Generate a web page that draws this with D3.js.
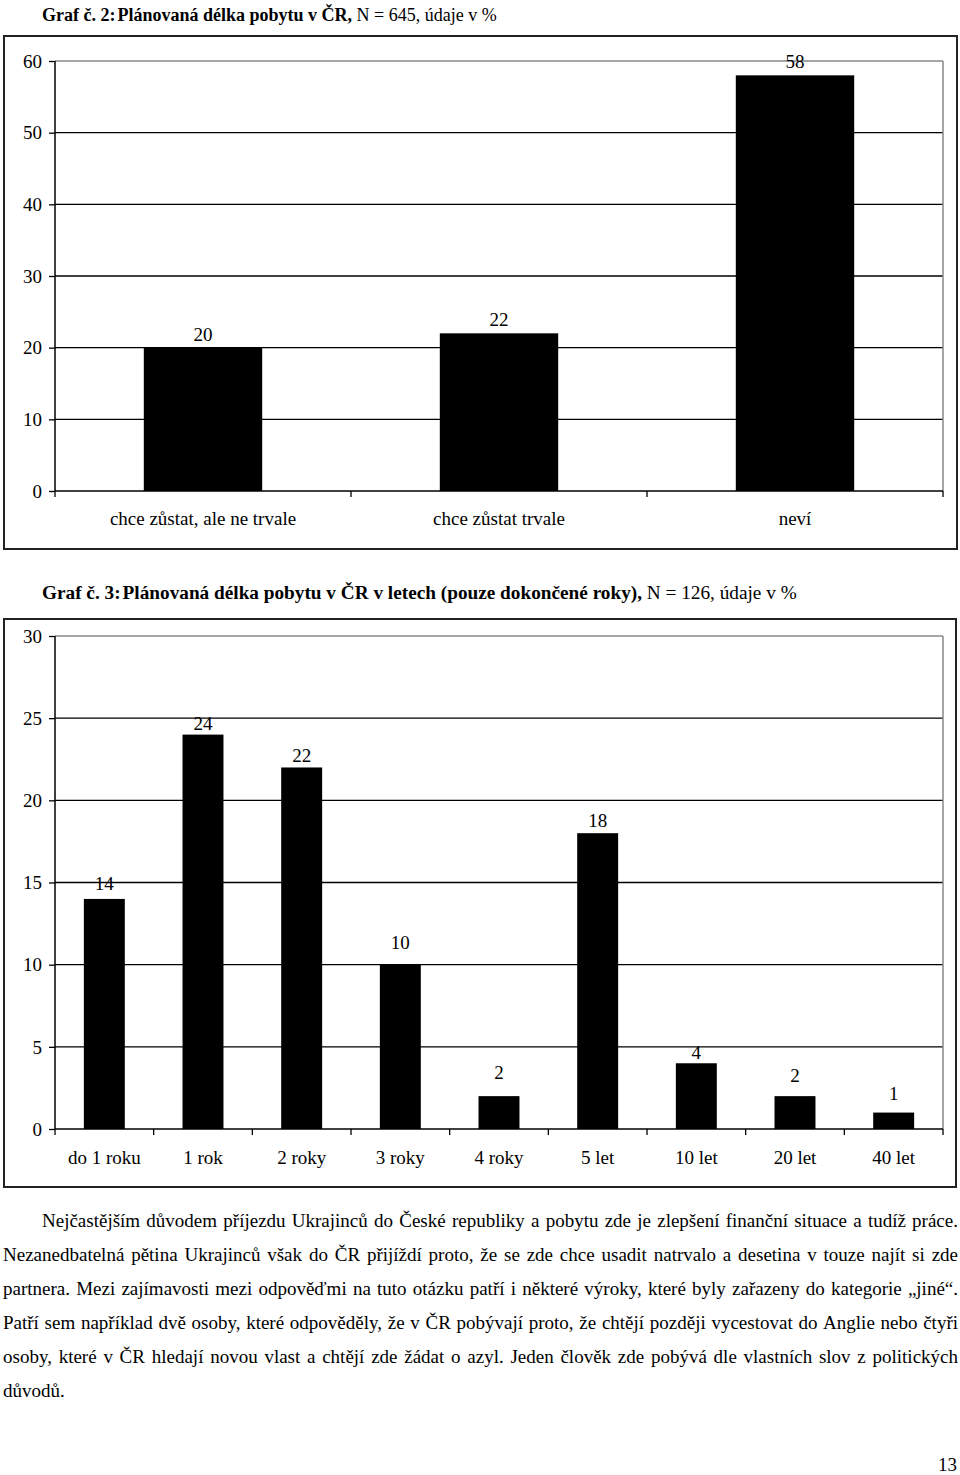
<!DOCTYPE html>
<html><head><meta charset="utf-8">
<script src="https://cdn.jsdelivr.net/npm/d3@7"></script>
<style>
html,body{margin:0;padding:0;background:#fff;}
svg{display:block;}
text{font-family:"Liberation Serif","Times New Roman",serif;fill:#000;}
</style></head>
<body>
<script>
// ---- data ----
const chart1Categories = ["chce zůstat, ale ne trvale", "chce zůstat trvale", "neví"];
const chart1Values = [20, 22, 58];
const chart1Ticks = [0, 10, 20, 30, 40, 50, 60];

const chart2Categories = ["do 1 roku", "1 rok", "2 roky", "3 roky", "4 roky", "5 let", "10 let", "20 let", "40 let"];
const chart2Values = [14, 24, 22, 10, 2, 18, 4, 2, 1];
const chart2Ticks = [0, 5, 10, 15, 20, 25, 30];

const title1Label = "Graf č. 2:";
const title1Bold = "Plánovaná délka pobytu v ČR,";
const title1Rest = " N = 645, údaje v %";
const title2Label = "Graf č. 3:";
const title2Bold = "Plánovaná délka pobytu v ČR v letech (pouze dokončené roky),";
const title2Rest = " N = 126, údaje v %";

const paragraphLines = [
  "Nejčastějším důvodem příjezdu Ukrajinců do České republiky a pobytu zde je zlepšení finanční situace a tudíž práce.",
  "Nezanedbatelná pětina Ukrajinců však do ČR přijíždí proto, že se zde chce usadit natrvalo a desetina v touze najít si zde",
  "partnera. Mezi zajímavosti mezi odpověďmi na tuto otázku patří i některé výroky, které byly zařazeny do kategorie „jiné“.",
  "Patří sem například dvě osoby, které odpověděly, že v ČR pobývají proto, že chtějí později vycestovat do Anglie nebo čtyři",
  "osoby, které v ČR hledají novou vlast a chtějí zde žádat o azyl. Jeden člověk zde pobývá dle vlastních slov z politických",
  "důvodů."
];
const pageNumber = "13";

// ---- layout ----
const W = 960, H = 1475, FS = 19;
const svg = d3.select("body").append("svg").attr("width", W).attr("height", H);
svg.append("rect").attr("width", W).attr("height", H).attr("fill", "#fff");

function title(y, fs, label, bold, rest) {
  const t = svg.append("text").attr("x", 42).attr("y", y).attr("font-size", fs);
  t.append("tspan").attr("font-weight", "bold").text(label);
  t.append("tspan").attr("font-weight", "bold").attr("dx", 2).text(bold);
  t.append("tspan").text(rest);
}

function barChart(cfg) {
  const {box, plot, cats, vals, ticks, domainMax, barFrac, labelDy, catY} = cfg;
  svg.append("rect").attr("x", box.x).attr("y", box.y).attr("width", box.w).attr("height", box.h)
    .attr("fill", "#fff").attr("stroke", "#222").attr("stroke-width", 2);

  const x = d3.scaleBand().domain(cats).range([plot.left, plot.right]).padding(0);
  const y = d3.scaleLinear().domain([0, domainMax]).range([plot.bottom, plot.top]);
  const g = svg.append("g");

  g.selectAll("line.grid").data(ticks.filter(t => t > 0 && t < domainMax)).join("line")
    .attr("x1", plot.left).attr("x2", plot.right)
    .attr("y1", d => y(d)).attr("y2", d => y(d))
    .attr("stroke", "#000").attr("stroke-width", 1.3);
  g.append("line").attr("x1", plot.left).attr("x2", plot.right)
    .attr("y1", y(domainMax)).attr("y2", y(domainMax)).attr("stroke", "#888").attr("stroke-width", 1.5);
  g.append("line").attr("x1", plot.right).attr("x2", plot.right)
    .attr("y1", y(domainMax)).attr("y2", y(0)).attr("stroke", "#888").attr("stroke-width", 1.5);

  const bw = x.bandwidth() * barFrac;
  g.selectAll("rect.bar").data(vals).join("rect")
    .attr("x", (d, i) => x(cats[i]) + (x.bandwidth() - bw) / 2)
    .attr("y", d => y(d)).attr("width", bw).attr("height", d => y(0) - y(d))
    .attr("fill", "#000");

  g.selectAll("text.val").data(vals).join("text")
    .attr("x", (d, i) => x(cats[i]) + x.bandwidth() / 2)
    .attr("y", (d, i) => y(d) - labelDy[i])
    .attr("text-anchor", "middle").attr("font-size", FS).text(d => d);

  const yAxis = d3.axisLeft(y).tickValues(ticks).tickSize(6).tickFormat(d3.format("d"));
  const ya = g.append("g").attr("transform", `translate(${plot.left},0)`).call(yAxis);
  ya.select(".domain").attr("stroke", "#000").attr("stroke-width", 1.5).attr("d", `M0,${plot.top}V${plot.bottom}`);
  ya.selectAll(".tick line").attr("stroke", "#000").attr("stroke-width", 1.3);
  ya.selectAll(".tick text").attr("font-size", FS).attr("font-family", "Liberation Serif").attr("x", -13).attr("dy", "0.33em").attr("fill", "#000");

  const xa = g.append("g").attr("transform", `translate(0,${plot.bottom})`);
  xa.append("line").attr("x1", plot.left).attr("x2", plot.right).attr("stroke", "#000").attr("stroke-width", 1.5);
  const bounds = cats.map(c => x(c)).concat([plot.right]);
  xa.selectAll("line.tk").data(bounds).join("line")
    .attr("x1", d => d).attr("x2", d => d).attr("y1", 0).attr("y2", 6)
    .attr("stroke", "#000").attr("stroke-width", 1.3);
  g.selectAll("text.cat").data(cats).join("text")
    .attr("x", d => x(d) + x.bandwidth() / 2).attr("y", catY)
    .attr("text-anchor", "middle").attr("font-size", FS).text(d => d);
}

title(21, 18, title1Label, title1Bold, title1Rest);
barChart({
  box: {x: 4, y: 36, w: 953, h: 513},
  plot: {left: 55, right: 943, top: 61, bottom: 491},
  cats: chart1Categories, vals: chart1Values, ticks: chart1Ticks, domainMax: 60,
  barFrac: 0.4, labelDy: [7, 7, 7], catY: 525
});

title(599, 19.25, title2Label, title2Bold, title2Rest);
barChart({
  box: {x: 4, y: 619, w: 952, h: 568},
  plot: {left: 55, right: 943, top: 636, bottom: 1129},
  cats: chart2Categories, vals: chart2Values, ticks: chart2Ticks, domainMax: 30,
  barFrac: 0.415, labelDy: [9, 5, 5, 16, 17, 6, 4, 14, 13], catY: 1164
});

// ---- paragraph, justified ----
const pLeft = 3, pRight = 958, pTop = 1227, pStep = 34.0;
paragraphLines.forEach((line, li) => {
  const x0 = li === 0 ? 42 : pLeft;
  const yb = pTop + li * pStep;
  const words = line.split(" ");
  const t = svg.append("text").attr("y", yb).attr("font-size", FS);
  if (li === paragraphLines.length - 1) { t.attr("x", x0).text(line); return; }
  const spans = words.map(w => t.append("tspan").text(w));
  const widths = spans.map(s => s.node().getComputedTextLength());
  const total = d3.sum(widths);
  const gap = (pRight - x0 - total) / (words.length - 1);
  let cx = x0;
  spans.forEach((s, i) => { s.attr("x", cx); cx += widths[i] + gap; });
});

svg.append("text").attr("x", 957).attr("y", 1471).attr("text-anchor", "end").attr("font-size", FS).text(pageNumber);
</script>
</body></html>
